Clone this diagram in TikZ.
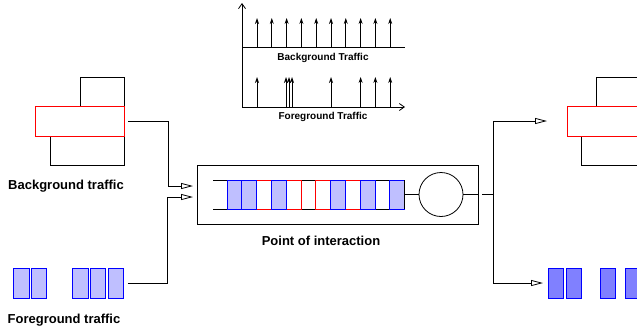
\documentclass[tikz,border=0pt]{standalone}
\usepackage{xcolor}
\usepackage{fontspec}
\setmainfont{Liberation Sans}
\usetikzlibrary{arrows.meta}

\begin{document}
\begin{tikzpicture}[x=1pt,y=-1pt,line width=0.8pt]
\tikzstyle{bgbox} = [rectangle, draw=black, inner sep=0pt, outer sep=0pt]
\tikzstyle{redbox} = [rectangle, draw=red, fill=white, inner sep=0pt, outer sep=0pt]
\tikzstyle{fgpkt} = [rectangle, draw=blue, fill=blue!25, minimum width=15.5pt, minimum height=30pt, inner sep=0pt, outer sep=0pt]
\tikzstyle{fgpktout} = [rectangle, draw=blue, fill=blue!50, minimum width=15pt, minimum height=30pt, inner sep=0pt, outer sep=0pt]
\tikzstyle{bluecell} = [rectangle, draw=blue, fill=blue!25, minimum width=14.8pt, minimum height=29pt, inner sep=0pt, outer sep=0pt]
\tikzstyle{redcell} = [rectangle, draw=red, fill=white, minimum width=14.8pt, minimum height=29pt, inner sep=0pt, outer sep=0pt]
\tikzstyle{label} = [font=\fontsize{13}{15}\selectfont\bfseries]
\tikzstyle{smalllabel} = [font=\fontsize{10}{12}\selectfont\bfseries]
\tikzstyle{inarrow} = [-{Triangle[open,length=12pt,width=6pt]}]
\tikzstyle{pulse} = [-{Stealth[length=6pt,width=4pt]}]
\tikzstyle{axis} = [-{Straight Barb[length=5pt,width=7pt]}]

\useasboundingbox (0,0) rectangle (637,333);

% background traffic (left)
\node(bgTop) [bgbox, minimum width=44pt, minimum height=29pt] at (102,91.5) {};
\node(bgBot) [bgbox, minimum width=74pt, minimum height=29pt] at (87,150.5) {};
\node(bgMid) [redbox, minimum width=89pt, minimum height=30pt] at (79.5,121) {};
\node(bgLabel) [label] at (66,186) {Background traffic};

% foreground traffic (left)
\node(fg1) [fgpkt] at (21.5,283) {};
\node(fg2) [fgpkt] at (39,283) {};
\node(fg3) [fgpkt] at (80.5,283) {};
\node(fg4) [fgpkt] at (98,283) {};
\node(fg5) [fgpkt] at (116,283) {};
\node(fgLabel) [label] at (64,320) {Foreground traffic};

% point of interaction
\node(poi) [rectangle, draw=black, minimum width=281pt, minimum height=59pt, inner sep=0pt, outer sep=0pt] at (337.5,194.5) {};
\node(poiLabel) [label] at (321,241) {Point of interaction};
\coordinate(qStart) at (213,194.5);
\coordinate(qEnd) at (404.6,194.5);
\draw ([yshift=-14.5pt]qStart) -- ([yshift=-14.5pt]qEnd);
\draw ([yshift=14.5pt]qStart) -- ([yshift=14.5pt]qEnd);
\node(cell3) [redcell] at (264.0,194.5) {};
\node(cell5) [redcell] at (293.6,194.5) {};
\node(cell7) [redcell] at (323.2,194.5) {};
\node(cell9) [redcell] at (352.8,194.5) {};
\node(cell1) [bluecell] at (234.4,194.5) {};
\node(cell2) [bluecell] at (249.2,194.5) {};
\node(cell4) [bluecell] at (278.8,194.5) {};
\node(cell8) [bluecell] at (338.0,194.5) {};
\node(cell10) [bluecell] at (367.6,194.5) {};
\node(cell12) [bluecell] at (397.2,194.5) {};
\draw[black] (cell12.north east) -- (cell12.south east);
\node(server) [circle, draw=black, minimum size=44pt, inner sep=0pt, outer sep=0pt] at (441,194.5) {};
\draw (qEnd) -- (server);
\draw (server) -- (poi.east);

% inputs
\coordinate(in1) at (193,186);
\coordinate(in2) at (193,197);
\draw[inarrow, shorten <=4pt] (bgMid.east) -- ++(44,0) |- (in1);
\draw[inarrow, shorten <=4pt] (fg5.east) -- ++(44,0) |- (in2);

% background traffic (right)
\node(bgTopR) [bgbox, minimum width=44pt, minimum height=29pt] at (618,91.5) {};
\node(bgBotR) [bgbox, minimum width=74pt, minimum height=29pt] at (618,150.5) {};
\node(bgMidR) [redbox, minimum width=89pt, minimum height=30pt] at (611.5,121) {};

% foreground traffic (right)
\node(fgR1) [fgpktout] at (555.5,283) {};
\node(fgR2) [fgpktout] at (573.5,283) {};
\node(fgR3) [fgpktout] at (607.5,283) {};
\node(fgR4) [fgpktout] at (632.5,283) {};

% outputs
\coordinate(split) at (493,194.5);
\draw[shorten <=4pt] (poi.east) -- (split);
\draw[inarrow, shorten >=20pt] (split) |- (bgMidR.west);
\draw[inarrow, shorten >=5pt] (split) |- (fgR1.west);

% traffic timeline
\coordinate(origin) at (242,107);
\draw[axis] (origin) -- (242,3);
\draw[axis] (origin) -- (405,107);
\draw (242,47) -- (405,47);
\foreach \x in {257,271.8,286.6,301.4,316.2,331,345.8,360.6,375.4,390.2}
  \draw[pulse] (\x,47) -- (\x,18);
\foreach \x in {257,286,289,292,331,360.6,375.4,390.2}
  \draw[pulse] (\x,107) -- (\x,77);
\node(bgTrafficLabel) [smalllabel, fill=white, inner sep=1pt] at (323,58) {Background Traffic};
\node(fgTrafficLabel) [smalllabel] at (323,117) {Foreground Traffic};
\end{tikzpicture}
\end{document}
